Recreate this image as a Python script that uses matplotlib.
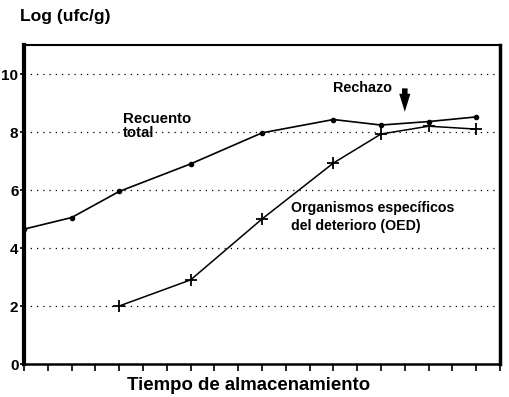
import numpy as np
import matplotlib.pyplot as plt

# storage time (tick index units, no labels on x)
x_total = [0, 2, 4, 7, 10, 13, 15, 17, 19]
y_total = [4.65, 5.05, 5.95, 6.9, 7.97, 8.43, 8.24, 8.36, 8.52]

x_oed = [4, 7, 10, 13, 15, 17, 19]
y_oed = [2.0, 2.9, 5.0, 6.93, 7.93, 8.2, 8.1]

y_ticks = [0, 2, 4, 6, 8, 10]
grid_levels = [2, 4, 6, 8, 10]

plt.rcParams['font.family'] = ['Liberation Sans', 'DejaVu Sans']
plt.rcParams['font.weight'] = 'bold'

fig = plt.figure(figsize=(5.09, 3.97), dpi=100)
ax = fig.add_axes([24 / 509, 33 / 397, 476 / 509, 319 / 397])

for g in grid_levels:
    ax.axhline(g, color='black', lw=0.9, ls=(0, (1, 4)), zorder=1)

ax.plot(x_total, y_total, color='black', lw=1.2, marker='o', ms=3, zorder=3)
ax.plot(x_oed, y_oed, color='black', lw=1.1, marker='+', ms=9, mew=1.3, zorder=3)

ax.set_xlim(0, 20)
ax.set_ylim(0, 11)
ax.set_xticks(np.arange(0, 21))
ax.set_xticklabels([])
ax.set_yticks(y_ticks)
ax.set_yticklabels([str(t) for t in y_ticks], fontsize=11, fontweight='bold')
ax.tick_params(axis='x', direction='out', length=5, width=1.2)
ax.tick_params(axis='y', direction='out', length=3, width=1.2, pad=1)

ax.spines['left'].set_linewidth(3)
ax.spines['bottom'].set_linewidth(1.8)
ax.spines['right'].set_linewidth(2.5)
ax.spines['top'].set_linewidth(1.5)

ax.text(4.15, 8.2, 'Recuento\ntotal', fontsize=10.8, fontweight='bold',
        va='center', ha='left', linespacing=1.05)
ax.text(13.0, 9.5, 'Rechazo', fontsize=10.4, fontweight='bold',
        va='center', ha='left')
ax.text(11.2, 5.07, 'Organismos específicos\ndel deterioro (OED)', fontsize=10.2,
        fontweight='bold', va='center', ha='left', linespacing=1.3)

ax.annotate('', xy=(16.0, 8.6), xytext=(16.0, 9.6),
            arrowprops=dict(arrowstyle='simple,head_length=1.3,head_width=0.8,tail_width=0.4',
                            color='black', lw=0))

fig.text(20 / 509, 1 - 17 / 397, 'Log (ufc/g)', fontsize=12.6, fontweight='bold',
         va='center', ha='left')
fig.text(249 / 509, 1 - 386 / 397, 'Tiempo de almacenamiento', fontsize=13.4,
         fontweight='bold', va='center', ha='center')

fig.savefig('out.png', dpi=100)
